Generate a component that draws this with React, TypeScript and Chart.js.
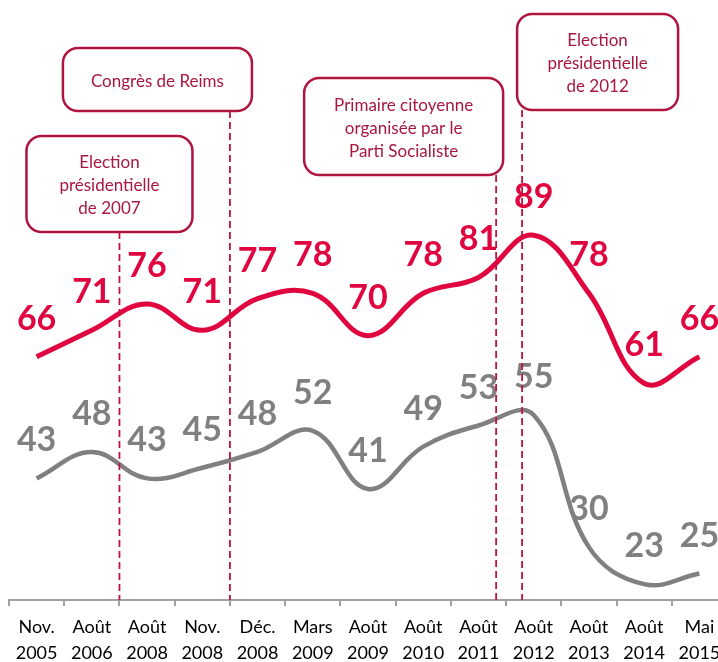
import React, { useEffect, useRef } from 'react';
import { Chart, registerables } from 'chart.js';

Chart.register(...registerables);

// ---- data ----
const categories: string[][] = [
  ['Nov.', '2005'], ['Août', '2006'], ['Août', '2008'], ['Nov.', '2008'],
  ['Déc.', '2008'], ['Mars', '2009'], ['Août', '2009'], ['Août', '2010'],
  ['Août', '2011'], ['Août', '2012'], ['Août', '2013'], ['Août', '2014'],
  ['Mai', '2015'],
];
const redValues = [66, 71, 76, 71, 77, 78, 70, 78, 81, 89, 78, 61, 66];
const grayValues = [43, 48, 43, 45, 48, 52, 41, 49, 53, 55, 30, 23, 25];
const eventPositions = [1.5, 3.5, 8.32, 8.79];
const eventLabels: string[][] = [
  ['Election', 'présidentielle', 'de 2007'],
  ['Congrès de Reims'],
  ['Primaire citoyenne', 'organisée par le', 'Parti Socialiste'],
  ['Election', 'présidentielle', 'de 2012'],
];
const yMin = 20;
const yMax = 100;

// ---- styles / layout ----
const RED = '#E0043F';
const GRAY = '#808080';
const BOX_BORDER = '#B0153F';
const BOX_TEXT = '#A8173F';
const DASH = '#C0143C';
const boxLayouts = [
  { dx: -93, w: 166, top: 136, h: 96 },
  { dx: -167, w: 189, top: 48, h: 63 },
  { dx: -192, w: 199, top: 78, h: 97 },
  { dx: -5, w: 161, top: 14, h: 96 },
];

const labelPlugin = {
  id: 'valueLabels',
  afterDatasetsDraw(chart: any) {
    const ctx = chart.ctx;
    ctx.save();
    ctx.font = 'bold 34px Lato';
    ctx.textAlign = 'center';
    ctx.textBaseline = 'alphabetic';
    chart.data.datasets.forEach((ds: any, di: number) => {
      const meta = chart.getDatasetMeta(di);
      ctx.fillStyle = ds.borderColor;
      meta.data.forEach((pt: any, i: number) => {
        ctx.fillText(String(ds.data[i]), pt.x, pt.y - 27);
      });
    });
    ctx.restore();
  },
};

const annotationPlugin = {
  id: 'events',
  afterDraw(chart: any) {
    const ctx = chart.ctx;
    const xs = chart.scales.x;
    const bottom = chart.chartArea.bottom;
    ctx.save();
    eventPositions.forEach((pos, i) => {
      const x = xs.getPixelForValue(pos);
      const b = boxLayouts[i];
      // dashed line
      ctx.beginPath();
      ctx.setLineDash([7, 4]);
      ctx.strokeStyle = DASH;
      ctx.lineWidth = 1.8;
      ctx.moveTo(x, b.top + b.h);
      ctx.lineTo(x, bottom);
      ctx.stroke();
      ctx.setLineDash([]);
      // box
      const left = x + b.dx;
      ctx.beginPath();
      (ctx as any).roundRect(left, b.top, b.w, b.h, 15);
      ctx.fillStyle = '#ffffff';
      ctx.fill();
      ctx.lineWidth = 2.5;
      ctx.strokeStyle = BOX_BORDER;
      ctx.stroke();
      // text
      const lines = eventLabels[i];
      const lh = 23;
      const cx = left + b.w / 2;
      const cy = b.top + b.h / 2 + 2;
      ctx.font = '17px Lato';
      ctx.fillStyle = BOX_TEXT;
      ctx.textAlign = 'center';
      ctx.textBaseline = 'middle';
      lines.forEach((t, li) => {
        ctx.fillText(t, cx, cy + (li - (lines.length - 1) / 2) * lh);
      });
    });
    ctx.restore();
  },
};

export default function App() {
  const ref = useRef<HTMLCanvasElement | null>(null);
  useEffect(() => {
    if (!ref.current) return;
    const chart = new Chart(ref.current, {
      type: 'line',
      data: {
        labels: categories,
        datasets: [
          {
            label: 'red',
            data: redValues,
            borderColor: RED,
            backgroundColor: RED,
            borderWidth: 5,
            pointRadius: 0,
            tension: 0.4,
            clip: false as any,
          },
          {
            label: 'gray',
            data: grayValues,
            borderColor: GRAY,
            backgroundColor: GRAY,
            borderWidth: 4.5,
            pointRadius: 0,
            tension: 0.4,
            clip: false as any,
          },
        ],
      },
      options: {
        responsive: false,
        animation: false,
        devicePixelRatio: 1,
        layout: { padding: { left: 9, right: 3, top: 177, bottom: 0 } },
        plugins: {
          legend: { display: false },
          tooltip: { enabled: false },
        },
        scales: {
          x: {
            type: 'category',
            offset: true,
            grid: {
              offset: true,
              display: true,
              drawOnChartArea: false,
              drawTicks: true,
              tickLength: 6,
              color: '#A0A0A0',
              lineWidth: 2,
            },
            border: { display: true, color: '#A0A0A0', width: 2 },
            ticks: {
              color: '#000000',
              font: { family: 'Lato', size: 18, lineHeight: 26 / 18 },
              padding: 8,
              maxRotation: 0,
              autoSkip: false,
            },
            afterFit: (scale: any) => {
              scale.height = 62;
            },
          },
          y: {
            display: false,
            min: yMin,
            max: yMax,
          },
        },
      },
      plugins: [labelPlugin, annotationPlugin],
    });
    return () => chart.destroy();
  }, []);
  return (
    <div
      style={{
        position: 'fixed',
        left: 0,
        top: 0,
        width: 718,
        height: 662,
        overflow: 'hidden',
        background: '#ffffff',
      }}
    >
      <canvas ref={ref} width={730} height={662} style={{ display: 'block' }} />
    </div>
  );
}
